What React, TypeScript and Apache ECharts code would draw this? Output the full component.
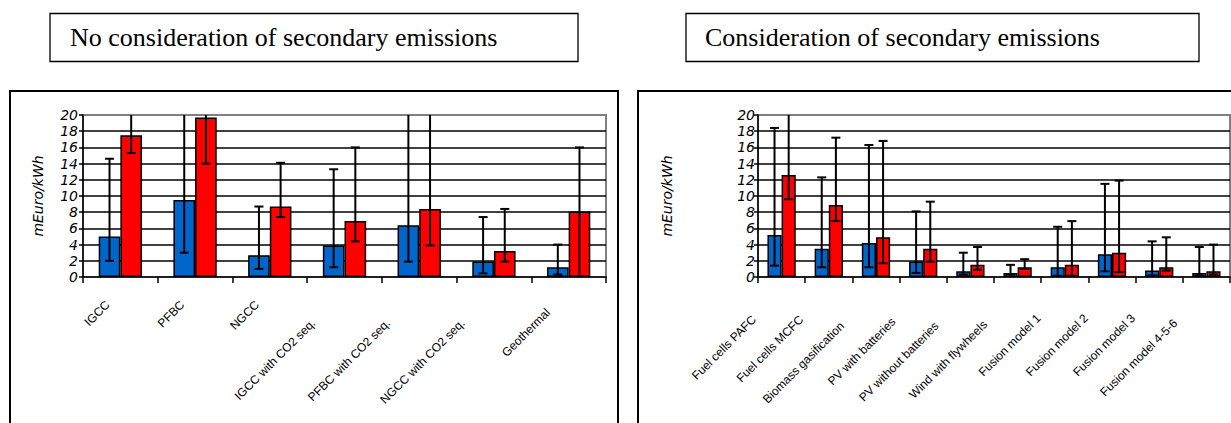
import React, { useEffect, useRef } from 'react';
import * as echarts from 'echarts';

// ---------- data ----------
const leftCategories = [
  'IGCC',
  'PFBC',
  'NGCC',
  'IGCC with CO2 seq.',
  'PFBC with CO2 seq.',
  'NGCC with CO2 seq.',
  'Geothermal',
];
const leftBlue = [5.0, 9.5, 2.7, 3.9, 6.4, 1.9, 1.2];
const leftBlueLow = [2.0, 3.0, 1.0, 1.2, 1.9, 0.45, 0.3];
const leftBlueHigh = [14.6, 22, 8.7, 13.3, 22, 7.4, 4.0];
const leftRed = [17.5, 19.7, 8.7, 6.9, 8.4, 3.2, 8.1];
const leftRedLow = [15.3, 14.0, 7.4, 4.4, 3.9, 1.9, 0.1];
const leftRedHigh = [22, 22, 14.1, 16.0, 22, 8.4, 16.0];

const rightCategories = [
  'Fuel cells PAFC',
  'Fuel cells MCFC',
  'Biomass gasification',
  'PV with batteries',
  'PV without batteries',
  'Wind with flywheels',
  'Fusion model 1',
  'Fusion model 2',
  'Fusion model 3',
  'Fusion model 4-5-6',
];
const rightBlue = [5.2, 3.5, 4.2, 1.9, 0.7, 0.5, 1.2, 2.8, 0.8, 0.5];
const rightBlueLow = [1.4, 1.2, 1.2, 0.5, 0.3, 0.3, 0.15, 0.7, 0.2, 0.2];
const rightBlueHigh = [18.4, 12.3, 16.3, 8.1, 3.0, 1.5, 6.2, 11.5, 4.4, 3.7];
const rightRed = [12.6, 8.9, 4.9, 3.5, 1.5, 1.2, 1.5, 3.0, 1.2, 0.7];
const rightRedLow = [9.6, 6.9, 1.7, 1.9, 0.9, 1.0, 0.15, 0.6, 0.8, 0.3];
const rightRedHigh = [22, 17.2, 16.8, 9.3, 3.7, 2.2, 6.9, 11.9, 4.9, 4.0];

const yTicks = [0, 2, 4, 6, 8, 10, 12, 14, 16, 18, 20];
const leftTitle = 'No consideration of secondary emissions';
const rightTitle = 'Consideration of secondary emissions';
const yAxisName = 'mEuro/kWh';

// ---------- styles ----------
const Y_MIN = yTicks[0];
const Y_MAX = yTicks[yTicks.length - 1];
const Y_STEP = yTicks[1] - yTicks[0];
const LABEL_FONT = "'Liberation Sans', Arial, sans-serif";
const AXIS_FONT = "'DejaVu Sans', sans-serif";
const TITLE_FONT = "'Liberation Serif', 'Times New Roman', serif";
const BLUE = '#0066CC';
const RED = '#FF0000';
const X_LABEL_SIZE = 12;

function labelPadding(s: string) {
  return Math.round(10 + 1.9 * s.length);
}

function makeXAxis(gridIndex: number, cats: string[]) {
  const rich: Record<string, any> = {};
  cats.forEach((c, i) => {
    rich['p' + i] = {
      padding: [0, labelPadding(c), 0, 0],
      fontSize: X_LABEL_SIZE,
      fontFamily: LABEL_FONT,
      color: '#000',
    };
  });
  return {
    type: 'category',
    gridIndex,
    data: cats,
    axisLine: { show: true, lineStyle: { color: '#000', width: 1.5 } },
    axisTick: {
      show: true,
      length: 6,
      interval: 0,
      alignWithLabel: false,
      lineStyle: { color: '#000', width: 1.5 },
    },
    axisLabel: {
      interval: 0,
      rotate: 45,
      margin: 13,
      fontSize: X_LABEL_SIZE,
      fontFamily: LABEL_FONT,
      color: '#000',
      formatter: (v: string, i: number) => `{p${i}|${v}}`,
      rich,
    },
    splitLine: { show: false },
  };
}

function makeYAxis(gridIndex: number, nameGap: number, labelMargin: number) {
  return {
    type: 'value',
    gridIndex,
    min: Y_MIN,
    max: Y_MAX,
    interval: Y_STEP,
    name: yAxisName,
    nameLocation: 'middle',
    nameGap,
    nameTextStyle: {
      fontFamily: AXIS_FONT,
      fontStyle: 'italic',
      fontSize: 14,
      color: '#000',
    },
    axisLine: { show: true, lineStyle: { color: '#000', width: 1.5 } },
    axisTick: { show: true, length: 4, lineStyle: { color: '#000', width: 1.5 } },
    axisLabel: {
      margin: labelMargin,
      fontFamily: AXIS_FONT,
      fontStyle: 'italic',
      fontSize: 14,
      color: '#000',
    },
    splitLine: {
      show: true,
      showMinLine: false,
      showMaxLine: false,
      lineStyle: { color: '#000', width: 1.5 },
    },
  };
}

function makeBars(axisIndex: number, data: number[], color: string, gap: string) {
  return {
    type: 'bar',
    xAxisIndex: axisIndex,
    yAxisIndex: axisIndex,
    data,
    barGap: '0%',
    barCategoryGap: gap,
    itemStyle: { color, borderColor: '#000', borderWidth: 1.5 },
    emphasis: { disabled: true },
  };
}

function makeErrors(
  axisIndex: number,
  gapFrac: number,
  blueLow: number[],
  blueHigh: number[],
  redLow: number[],
  redHigh: number[]
) {
  const data: number[][] = [];
  blueLow.forEach((lo, i) => data.push([i, lo, blueHigh[i], -1]));
  redLow.forEach((lo, i) => data.push([i, lo, redHigh[i], 1]));
  return {
    type: 'custom',
    xAxisIndex: axisIndex,
    yAxisIndex: axisIndex,
    data,
    encode: { x: 0, y: [1, 2] },
    z: 5,
    silent: true,
    renderItem: (params: any, api: any) => {
      const idx = api.value(0);
      const lo = api.value(1);
      const hi = api.value(2);
      const side = api.value(3);
      const catW = api.size([1, 0])[0];
      const bw = (catW * (1 - gapFrac)) / 2;
      const base = api.coord([idx, lo]);
      const cx = base[0] + (side * bw) / 2;
      const yLo = base[1];
      const yHi = api.coord([idx, Math.min(hi, Y_MAX)])[1];
      const capW = 4.5;
      const st = { stroke: '#000', lineWidth: 2 };
      const children: any[] = [
        { type: 'line', shape: { x1: cx, y1: yLo, x2: cx, y2: yHi }, style: st },
        { type: 'line', shape: { x1: cx - capW, y1: yLo, x2: cx + capW, y2: yLo }, style: st },
      ];
      if (hi <= Y_MAX) {
        children.push({
          type: 'line',
          shape: { x1: cx - capW, y1: yHi, x2: cx + capW, y2: yHi },
          style: st,
        });
      }
      return { type: 'group', children };
    },
  };
}

export default function App() {
  const ref = useRef<HTMLDivElement>(null);

  useEffect(() => {
    document.body.style.margin = '0';
    if (!ref.current) return;
    const chart = echarts.init(ref.current, undefined, { renderer: 'svg' });
    const option: any = {
      animation: false,
      backgroundColor: '#fff',
      grid: [
        {
          left: 83,
          top: 115,
          width: 523,
          height: 162,
          show: true,
          borderColor: '#808080',
          borderWidth: 2,
          backgroundColor: 'transparent',
        },
        {
          left: 758,
          top: 115,
          width: 472,
          height: 162,
          show: true,
          borderColor: '#808080',
          borderWidth: 2,
          backgroundColor: 'transparent',
        },
      ],
      xAxis: [makeXAxis(0, leftCategories), makeXAxis(1, rightCategories)],
      yAxis: [makeYAxis(0, 38, 5), makeYAxis(1, 84, 3)],
      series: [
        makeBars(0, leftBlue, BLUE, '42%'),
        makeBars(0, leftRed, RED, '42%'),
        makeBars(1, rightBlue, BLUE, '40%'),
        makeBars(1, rightRed, RED, '40%'),
        makeErrors(0, 0.42, leftBlueLow, leftBlueHigh, leftRedLow, leftRedHigh),
        makeErrors(1, 0.4, rightBlueLow, rightBlueHigh, rightRedLow, rightRedHigh),
      ],
      graphic: [
        {
          type: 'rect',
          shape: { x: 10, y: 91, width: 608, height: 400 },
          style: { fill: 'none', stroke: '#000', lineWidth: 2 },
          silent: true,
        },
        {
          type: 'rect',
          shape: { x: 638, y: 91, width: 700, height: 400 },
          style: { fill: 'none', stroke: '#000', lineWidth: 2 },
          silent: true,
        },
        {
          type: 'rect',
          shape: { x: 50, y: 13.5, width: 528, height: 48 },
          style: { fill: '#fff', stroke: '#000', lineWidth: 1.3 },
          silent: true,
        },
        {
          type: 'rect',
          shape: { x: 686, y: 13.5, width: 513, height: 48 },
          style: { fill: '#fff', stroke: '#000', lineWidth: 1.3 },
          silent: true,
        },
        {
          type: 'text',
          x: 70,
          y: 37,
          style: {
            text: leftTitle,
            fontSize: 26,
            fontFamily: TITLE_FONT,
            fill: '#000',
            verticalAlign: 'middle',
          },
          silent: true,
        },
        {
          type: 'text',
          x: 705,
          y: 37,
          style: {
            text: rightTitle,
            fontSize: 26,
            fontFamily: TITLE_FONT,
            fill: '#000',
            verticalAlign: 'middle',
          },
          silent: true,
        },
      ],
    };
    chart.setOption(option);
    return () => chart.dispose();
  }, []);

  return (
    <div
      ref={ref}
      style={{ position: 'absolute', left: 0, top: 0, width: 1231, height: 423 }}
    />
  );
}
